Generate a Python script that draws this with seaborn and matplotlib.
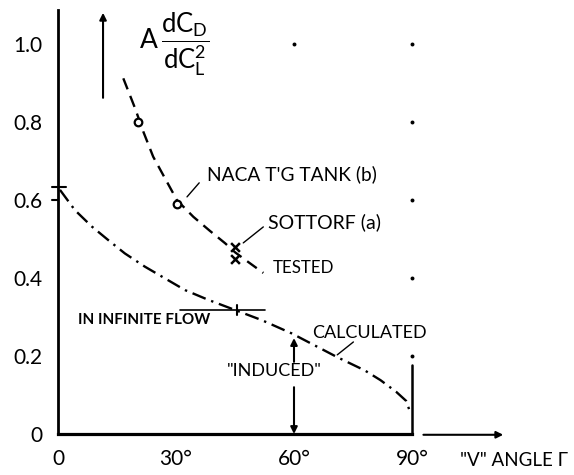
import matplotlib
matplotlib.use("Agg")
import matplotlib.pyplot as plt
import seaborn as sns

# ---- data ----
tested_angle = [16.6, 19.6, 21.7, 24.2, 26.8, 29.3, 30.2, 34.4, 38.6, 42.5, 45.0, 48.5, 52.2]
tested_value = [0.912, 0.835, 0.775, 0.711, 0.663, 0.617, 0.600, 0.557, 0.521, 0.489, 0.466, 0.440, 0.413]
calc_angle = [0.5, 4.3, 8.6, 12.8, 17.0, 22.1, 27.2, 32.3, 38.2, 45.0, 51.8, 59.4,
              71.0, 78.0, 82.0, 86.0, 88.5, 89.6]
calc_value = [0.626, 0.574, 0.532, 0.497, 0.463, 0.429, 0.399, 0.369, 0.344, 0.318, 0.292, 0.258,
              0.197, 0.163, 0.138, 0.108, 0.085, 0.054]
naca_angle = [20.4, 30.2]
naca_value = [0.801, 0.590]
sottorf_angle = [45.0, 45.0]
sottorf_value = [0.480, 0.448]
dot_angle = [60, 90, 90, 90, 90, 90]
dot_value = [1.0, 1.0, 0.8, 0.6, 0.4, 0.2]
y_ticks = [0, 0.2, 0.4, 0.6, 0.8, 1.0]
y_labels = ["0", "0.2", "0.4", "0.6", "0.8", "1.0"]
x_ticks = [0, 30, 60, 90]
x_labels = ["0", "30°", "60°", "90°"]
infinite_flow_value = 0.318
infinite_flow_angle = 45.5
induced_angle = 60

# ---- style ----
sns.set_theme(style="white")
plt.rcParams['font.family'] = ['Lato', 'DejaVu Sans']
plt.rcParams['mathtext.fontset'] = 'custom'
plt.rcParams['mathtext.rm'] = 'Lato'
plt.rcParams['text.color'] = 'black'

fig = plt.figure(figsize=(5.74, 4.75), dpi=100)
ax = fig.add_axes([58 / 574, 41 / 475, 354 / 574, 424 / 475])
ax.set_xlim(0, 90)
ax.set_ylim(0, 424 / 390)
for s in ['top', 'right']:
    ax.spines[s].set_visible(False)
ax.spines['left'].set_linewidth(2.0)
ax.spines['bottom'].set_linewidth(2.3)
ax.spines['left'].set_color('black')
ax.spines['bottom'].set_color('black')
ax.set_xticks(x_ticks, x_labels)
ax.set_yticks(y_ticks, y_labels)
ax.tick_params(axis='y', direction='in', length=5, width=1.5, pad=11,
               labelsize=15, colors='black')
ax.tick_params(axis='x', direction='in', length=4, width=1.5, pad=11,
               labelsize=15, colors='black')

K = 'black'
# curves
sns.lineplot(x=tested_angle, y=tested_value, ax=ax, color=K, lw=1.7,
             linestyle=(0, (5, 3)), sort=False, estimator=None)
sns.lineplot(x=calc_angle, y=calc_value, ax=ax, color=K, lw=1.7,
             linestyle=(0, (6, 2.5, 1, 2.5)), sort=False, estimator=None)
for ln in ax.lines:
    ln.set_clip_on(False)

# markers
sns.scatterplot(x=naca_angle, y=naca_value, ax=ax, marker='o', s=30,
                facecolor='white', edgecolor=K, linewidth=1.6, zorder=5, clip_on=False)
sns.scatterplot(x=sottorf_angle, y=sottorf_value, ax=ax, marker='x', s=40,
                color=K, linewidth=1.8, zorder=5, clip_on=False)
sns.scatterplot(x=dot_angle, y=dot_value, ax=ax, marker='o', s=8,
                color=K, linewidth=0, zorder=5, clip_on=False)

# vertical line at 90 deg
ax.plot([90, 90], [0, 0.177], color=K, lw=1.8, clip_on=False)
# start mark of calculated curve
ax.plot([-1.5, 2.0], [0.633, 0.633], color=K, lw=1.5, clip_on=False)
ax.plot([-1.5, 0], [0.6, 0.6], color=K, lw=1.5, clip_on=False)
# infinite flow reference line
ax.plot([31, 52.7], [infinite_flow_value, infinite_flow_value], color=K, lw=1.2, clip_on=False)
ax.plot([infinite_flow_angle, infinite_flow_angle],
        [infinite_flow_value - 0.012, infinite_flow_value + 0.012], color=K, lw=1.5, clip_on=False)

# leader lines
ax.plot([32.8, 35.9], [0.608, 0.644], color=K, lw=1.0, clip_on=False)
ax.plot([47.1, 52.2], [0.490, 0.531], color=K, lw=1.0, clip_on=False)
ax.plot([71.0, 75.1], [0.203, 0.236], color=K, lw=1.0, clip_on=False)

arrow = dict(arrowstyle='-|>', color=K, lw=1.5, mutation_scale=10, shrinkA=0, shrinkB=0)
# upward arrow beside the y label
ax.annotate('', xy=(11.45, 1.08), xytext=(11.45, 0.862), arrowprops=arrow, annotation_clip=False)
# x-axis arrow
ax.annotate('', xy=(113.2, -0.002), xytext=(92.9, -0.002), arrowprops=arrow, annotation_clip=False)
# induced arrows
ax.annotate('', xy=(induced_angle, 0.246), xytext=(induced_angle, 0.185), arrowprops=arrow, annotation_clip=False)
ax.annotate('', xy=(induced_angle, 0.0), xytext=(induced_angle, 0.12), arrowprops=arrow, annotation_clip=False)

# texts
tkw = dict(color=K, va='center', ha='left', clip_on=False)
ax.text(37.9, 0.667, "NACA T'G TANK (b)", fontsize=13.8, **tkw)
ax.text(53.4, 0.544, "SOTTORF (a)", fontsize=14, **tkw)
ax.text(54.7, 0.426, "TESTED", fontsize=12.2, **tkw)
ax.text(64.6, 0.259, "CALCULATED", fontsize=13, **tkw)
ax.text(5.2, 0.292, "IN INFINITE FLOW", fontsize=11, fontweight='bold', **tkw)
ax.text(54.9, 0.162, '"INDUCED"', fontsize=13, color=K, va='center', ha='center')
ax.text(102.2, -0.067, '"V" ANGLE Γ', fontsize=13.5, **tkw)
ax.text(20.8, 1.008, 'A', fontsize=19, **tkw)
ax.text(26.3, 1.0, r'$\dfrac{\mathrm{dC_D}}{\mathrm{dC_L^2}}$', fontsize=18.5, **tkw)

fig.savefig('out.png', dpi=100)
